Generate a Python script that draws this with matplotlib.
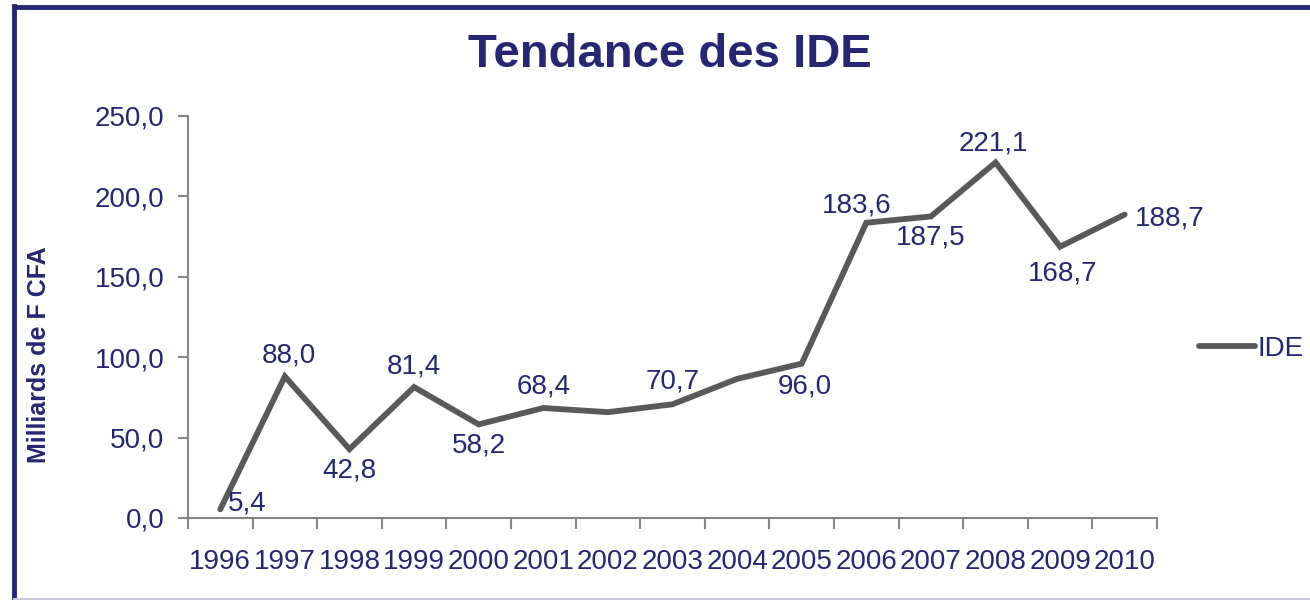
import matplotlib
matplotlib.use("Agg")
import matplotlib.pyplot as plt
from matplotlib.lines import Line2D

plt.rcParams['font.family'] = ['Liberation Sans', 'DejaVu Sans']

years = ['1996', '1997', '1998', '1999', '2000', '2001', '2002', '2003',
         '2004', '2005', '2006', '2007', '2008', '2009', '2010']
ide = [5.4, 88.0, 42.8, 81.4, 58.2, 68.4, 65.8, 70.7, 86.5, 96.0,
       183.6, 187.5, 221.1, 168.7, 188.7]
labels = ['5,4', '88,0', '42,8', '81,4', '58,2', '68,4', '', '70,7', '',
          '96,0', '183,6', '187,5', '221,1', '168,7', '188,7']
yticks = [0, 50, 100, 150, 200, 250]

navy = '#262673'
grey = '#595959'
fs = 20

# label placement: (dx, dy, ha, va) in pixels
place = [(8, 6, 'left', 'center'), (4, 8, 'center', 'bottom'),
         (0, -8, 'center', 'top'), (0, 8, 'center', 'bottom'),
         (0, -8, 'center', 'top'), (0, 8, 'center', 'bottom'),
         (0, 0, 'center', 'center'), (0, 10, 'center', 'bottom'),
         (0, 0, 'center', 'center'), (3, -10, 'center', 'top'),
         (-10, 4, 'center', 'bottom'), (0, -8, 'center', 'top'),
         (-2, 6, 'center', 'bottom'), (3, -14, 'center', 'top'),
         (10, -4, 'left', 'center')]

fig = plt.figure(figsize=(13.1, 6.0), dpi=100)
ax = fig.add_axes([0.1435, 0.1367, 0.7397, 0.67])

x = list(range(len(years)))
ax.plot(x, ide, color=grey, lw=4.2, solid_capstyle='round',
        solid_joinstyle='miter', label='IDE')

for i in x:
    if labels[i]:
        dx, dy, ha, va = place[i]
        ax.annotate(labels[i], (x[i], ide[i]), xytext=(dx, dy),
                    textcoords='offset pixels', ha=ha, va=va,
                    color=navy, fontsize=fs)

ax.set_xlim(-0.5, len(years) - 0.5)
ax.set_ylim(0, 250)
ax.set_yticks(yticks)
ax.set_yticklabels([f'{v:.1f}'.replace('.', ',') for v in yticks])
ax.set_xticks([i - 0.5 for i in range(len(years) + 1)])
ax.set_xticklabels([])
ax.set_xticks(x, minor=True)
ax.set_xticklabels(years, minor=True)
ax.tick_params(axis='x', which='major', length=8, color='#868686', width=1.5)
ax.tick_params(axis='x', which='minor', length=0, pad=22,
               labelsize=fs, labelcolor=navy)
ax.tick_params(axis='y', length=7, color='#868686', width=1.5,
               labelsize=fs, labelcolor=navy, pad=10)

for s in ['top', 'right']:
    ax.spines[s].set_visible(False)
for s in ['left', 'bottom']:
    ax.spines[s].set_color('#868686')
    ax.spines[s].set_linewidth(1.5)

ax.set_ylabel('Milliards de F CFA', fontsize=18, fontweight='bold',
              color=navy)
ax.yaxis.set_label_coords(-0.141, 0.405)

fig.text(0.511, 0.908, 'Tendance des IDE', ha='center', va='center',
         fontsize=34, fontweight='bold', color=navy)

ax.legend(loc='center left', bbox_to_anchor=(1.0175, 0.42), frameon=False,
          fontsize=fs, labelcolor=navy, handlelength=2.0,
          handletextpad=0.1)

# chart border
fig.add_artist(Line2D([0.0105, 0.0105], [0, 0.99], color='#262673', lw=3.5,
                      transform=fig.transFigure))
fig.add_artist(Line2D([0.0105, 1.0], [0.9885, 0.9885], color='#262673', lw=3.5,
                      transform=fig.transFigure))
fig.add_artist(Line2D([0.0105, 1.0], [0.002, 0.002], color='#c8c8d8', lw=1.5,
                      transform=fig.transFigure))

fig.savefig('out.png', dpi=100)
